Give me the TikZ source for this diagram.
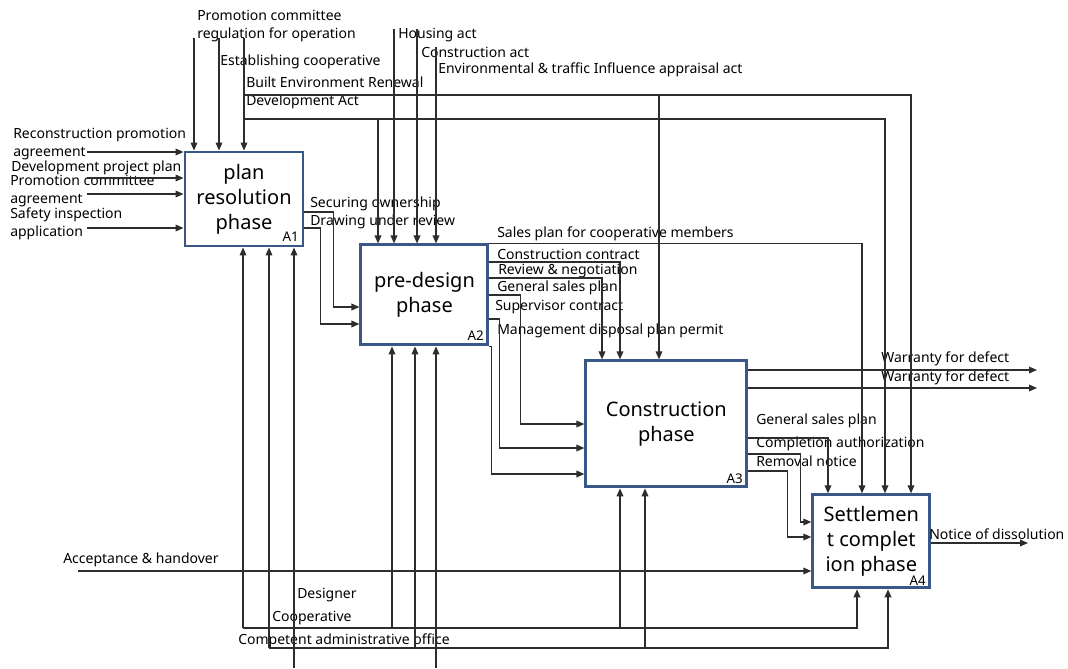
\documentclass[tikz,border=0pt]{standalone}
\usepackage{fontspec}
\setmainfont{Noto Sans}
\usepackage{tikz}
\usetikzlibrary{positioning,arrows.meta}
\usepackage{xcolor}
\definecolor{BoxBlue}{RGB}{58,88,135}
\definecolor{LineGray}{RGB}{45,45,45}

\begin{document}
\begin{tikzpicture}[x=0.75pt, y=-0.75pt,
    phase/.style={rectangle, draw=BoxBlue, line width=2.2pt, fill=white,
                  align=center, inner sep=0pt, font=\fontsize{15}{18.75}\selectfont},
    tag/.style={font=\fontsize{10}{12}\selectfont, inner sep=0pt, anchor=south east},
    lbl/.style={font=\fontsize{10.5}{13.5}\selectfont, align=left, inner sep=0pt, anchor=west},
    arrow/.style={-{Triangle[length=6pt, width=5pt]}, draw=LineGray, line width=1pt}
]
    \useasboundingbox (0,0) rectangle (1068,668);

    \node[phase, minimum width=88.5pt, minimum height=70.5pt] (A1) at (244,199) {plan\\resolution\\phase};
    \node[phase, minimum width=95.25pt, minimum height=75pt, below right=-3pt and 41.25pt of A1] (A2) {pre-design\\phase};
    \node[phase, minimum width=120.75pt, minimum height=94.5pt, below right=9.75pt and 71.25pt of A2] (A3) {Construction\\phase};
    \node[phase, minimum width=87.75pt, minimum height=69.75pt, below right=3.75pt and 47.25pt of A3] (A4) {Settlemen\\t complet\\ion phase};

    \node[tag] (A1tag) at ([xshift=-4pt, yshift=4pt]A1.south east) {A1};
    \node[tag] (A2tag) at ([xshift=-4pt, yshift=4pt]A2.south east) {A2};
    \node[tag] (A3tag) at ([xshift=-4pt, yshift=3pt]A3.south east) {A3};
    \node[tag] (A4tag) at ([xshift=-4pt, yshift=3pt]A4.south east) {A4};

    \node[lbl] (lRegOp) at (197,26) {Promotion committee\\regulation for operation};
    \node[lbl] (lEstab) at (220,62) {Establishing cooperative};
    \node[lbl] (lBER) at (246,93) {Built Environment Renewal\\Development Act};
    \node[lbl] (lHousing) at (398,35) {Housing act};
    \node[lbl] (lConstr) at (421,52) {Construction act};
    \node[lbl] (lEnvir) at (438,70) {Environmental \& traffic Influence appraisal act};
    \node[lbl] (lRecon) at (13,144) {Reconstruction promotion\\agreement};
    \node[lbl] (lDevPlan) at (11,168) {Development project plan};
    \node[lbl] (lPromAgr) at (10,191) {Promotion committee\\agreement};
    \node[lbl] (lSafety) at (10,224) {Safety inspection\\application};
    \node[lbl] (lSecure) at (310,204) {Securing ownership};
    \node[lbl] (lDrawing) at (310,222) {Drawing under review};
    \node[lbl] (lSales) at (497,234) {Sales plan for cooperative members};
    \node[lbl] (lContract) at (497,254) {Construction contract};
    \node[lbl] (lReview) at (498,271) {Review \& negotiation};
    \node[lbl] (lGenSales) at (497,288) {General sales plan};
    \node[lbl] (lSuperv) at (495,307) {Supervisor contract};
    \node[lbl] (lMgmt) at (497,331) {Management disposal plan permit};
    \node[lbl] (lWarr1) at (881,359) {Warranty for defect};
    \node[lbl] (lWarr2) at (881,378) {Warranty for defect};
    \node[lbl] (lGenSalesB) at (756,421) {General sales plan};
    \node[lbl] (lCompl) at (756,444) {Completion authorization};
    \node[lbl] (lRemoval) at (756,461) {Removal notice};
    \node[lbl] (lNotice) at (929,534) {Notice of dissolution};
    \node[lbl] (lAccept) at (63,560) {Acceptance \& handover};
    \node[lbl] (lDesigner) at (297,595) {Designer};
    \node[lbl] (lCoop) at (272,618) {Cooperative};
    \node[lbl] (lComp) at (238,641) {Competent administrative office};

    \coordinate (regTop) at (194,38);
    \coordinate (estTop) at (219,38);
    \coordinate (berTop) at (244,38);
    \coordinate (berA) at (244,95);
    \coordinate (berB) at (244,119);
    \coordinate (housTop) at (394,29);
    \coordinate (consTop) at (417,29);
    \coordinate (envTop) at (436,47);
    \coordinate (inRecon) at (87,152);
    \coordinate (inDev) at (87,178);
    \coordinate (inProm) at (87,194);
    \coordinate (inSafety) at (87,228);
    \coordinate (inAccept) at (78,571);
    \coordinate (warr1) at (1037,370);
    \coordinate (warr2) at (1037,388);
    \coordinate (notice) at (1028,543);
    \coordinate (coop) at (243,628);
    \coordinate (comp) at (269,648);
    \coordinate (des1) at (294,668);
    \coordinate (des2) at (436,668);

    \draw[arrow] (regTop) -- (regTop |- A1.north);
    \draw[arrow] (estTop) -- (estTop |- A1.north);
    \draw[arrow] (berTop) -- (berTop |- A1.north);
    \draw[arrow] (berA) -| (A4.north -| 911,0);
    \draw[arrow] (berA -| 659,0) -- (A3.north -| 659,0);
    \draw[arrow] (berB) -| (A4.north -| 885,0);
    \draw[arrow] (berB -| 378,0) -- (A2.north -| 378,0);
    \draw[arrow] (housTop) -- (housTop |- A2.north);
    \draw[arrow] (consTop) -- (consTop |- A2.north);
    \draw[arrow] (envTop) -- (envTop |- A2.north);

    \draw[arrow] (inRecon) -- (inRecon -| A1.west);
    \draw[arrow] (inDev) -- (inDev -| A1.west);
    \draw[arrow] (inProm) -- (inProm -| A1.west);
    \draw[arrow] (inSafety) -- (inSafety -| A1.west);

    \draw[arrow] (A1.east |- 0,212) -- ++(29,0) |- (A2.west |- 0,307);
    \draw[arrow] (A1.east |- 0,228) -- ++(16,0) |- (A2.west |- 0,324);

    \draw[arrow] (A2.north east) -| (A4.north -| 862,0);
    \draw[arrow] (A2.east |- 0,262) -| (A3.north -| 620,0);
    \draw[arrow] (A2.east |- 0,278) -| (A3.north -| 602,0);
    \draw[arrow] (A2.east |- 0,295) -- ++(31,0) |- (A3.west |- 0,424);
    \draw[arrow] (A2.east |- 0,319) -- ++(10,0) |- (A3.west |- 0,448);
    \draw[arrow] (A2.south east) -- ++(2,0) |- (A3.west |- 0,474);

    \draw[arrow] (A3.east |- warr1) -- (warr1);
    \draw[arrow] (A3.east |- warr2) -- (warr2);
    \draw[arrow] (A3.east |- 0,438) -| (A4.north -| 828,0);
    \draw[arrow] (A3.east |- 0,454) -- ++(52,0) |- (A4.west |- 0,522);
    \draw[arrow] (A3.east |- 0,471) -- ++(39,0) |- (A4.west |- 0,537);

    \draw[arrow] (A4.east |- notice) -- (notice);
    \draw[arrow] (inAccept) -- (inAccept -| A4.west);

    \draw[arrow] (coop) -- (coop |- A1.south);
    \draw[arrow] (coop) -| (A2.south -| 392,0);
    \draw[arrow] (coop) -| (A3.south -| 620,0);
    \draw[arrow] (coop) -| (A4.south -| 857,0);
    \draw[arrow] (comp) -- (comp |- A1.south);
    \draw[arrow] (comp) -| (A2.south -| 415,0);
    \draw[arrow] (comp) -| (A3.south -| 645,0);
    \draw[arrow] (comp) -| (A4.south -| 888,0);
    \draw[arrow] (des1) -- (des1 |- A1.south);
    \draw[arrow] (des2) -- (des2 |- A2.south);
\end{tikzpicture}
\end{document}
